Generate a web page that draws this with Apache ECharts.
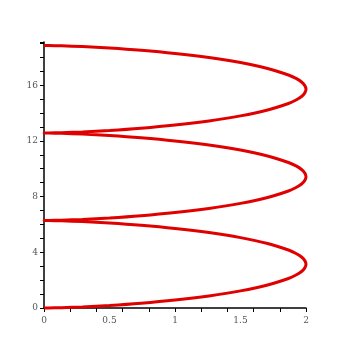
<!DOCTYPE html>
<html>
<head>
<meta charset="utf-8">
<script src="https://cdn.jsdelivr.net/npm/echarts@6/dist/echarts.min.js"></script>
<style>
  html, body { margin: 0; padding: 0; background: #fff; }
  #chart { width: 338px; height: 343px; }
</style>
</head>
<body>
<div id="chart"></div>
<script>
// Horizontal position of each sample along one arch (shared by all three arches)
const archX = [0, 0.034, 0.134, 0.293, 0.5, 0.741, 1, 1.259, 1.5, 1.707, 1.866, 1.924, 1.966, 1.991, 2,
               1.991, 1.966, 1.924, 1.866, 1.707, 1.5, 1.259, 1, 0.741, 0.5, 0.293, 0.134, 0.034, 0];
// Vertical positions for each of the three arches
const arch1Y = [0, 0.003, 0.024, 0.078, 0.181, 0.343, 0.571, 0.867, 1.228, 1.649, 2.118, 2.366, 2.621, 2.880, 3.142,
                3.403, 3.662, 3.917, 4.165, 4.634, 5.055, 5.417, 5.712, 5.940, 6.102, 6.205, 6.259, 6.280, 6.283];
const arch2Y = [6.283, 6.286, 6.307, 6.361, 6.464, 6.626, 6.854, 7.150, 7.511, 7.932, 8.401, 8.649, 8.904, 9.163, 9.425,
                9.686, 9.945, 10.200, 10.448, 10.917, 11.338, 11.700, 11.995, 12.223, 12.385, 12.488, 12.542, 12.563, 12.566];
const arch3Y = [12.566, 12.569, 12.590, 12.644, 12.747, 12.909, 13.137, 13.433, 13.794, 14.215, 14.684, 14.932, 15.187, 15.446, 15.708,
                15.969, 16.228, 16.483, 16.731, 17.200, 17.621, 17.983, 18.278, 18.506, 18.668, 18.771, 18.825, 18.846, 18.849];
// Tick labels
const xLabels = ['0', '0.5', '1', '1.5', '2'];
const yLabels = ['0', '4', '8', '12', '16'];

const curve = [];
[arch1Y, arch2Y, arch3Y].forEach(ys => {
  ys.forEach((y, i) => {
    if (curve.length && i === 0) return;
    curve.push([archX[i], y]);
  });
});

const labelStyle = { color: '#555', fontSize: 9, fontFamily: 'DejaVu Serif' };

const chart = echarts.init(document.getElementById('chart'), null, { renderer: 'canvas' });
chart.setOption({
  animation: false,
  backgroundColor: '#fff',
  grid: { left: 44, right: 32, top: 42, bottom: 35, containLabel: false },
  xAxis: [
    {
      type: 'value', min: 0, max: 2, interval: 0.2,
      axisLine: { show: true, lineStyle: { color: '#000', width: 1.5 } },
      axisTick: { show: true, inside: false, length: 4, lineStyle: { color: '#000', width: 1 } },
      axisLabel: { show: false },
      splitLine: { show: false }
    },
    {
      type: 'value', min: 0, max: 2, interval: 0.5, position: 'bottom',
      axisLine: { show: false }, axisTick: { show: false },
      axisLabel: Object.assign({ show: true, margin: 8, formatter: v => xLabels[Math.round(v * 2)] }, labelStyle),
      splitLine: { show: false }
    }
  ],
  yAxis: [
    {
      type: 'value', min: 0, max: 19.1, interval: 1,
      axisLine: { show: true, lineStyle: { color: '#000', width: 1.5 } },
      axisTick: { show: true, inside: false, length: 4, lineStyle: { color: '#000', width: 1 } },
      axisLabel: { show: false },
      splitLine: { show: false }
    },
    {
      type: 'value', min: 0, max: 19.1, interval: 4, position: 'left',
      axisLine: { show: false }, axisTick: { show: false },
      axisLabel: Object.assign({ show: true, margin: 6, showMaxLabel: false,
        formatter: v => yLabels[Math.round(v / 4)] || '' }, labelStyle),
      splitLine: { show: false }
    }
  ],
  series: [{
    type: 'line',
    data: curve,
    xAxisIndex: 0, yAxisIndex: 0,
    showSymbol: false,
    smooth: 0.3,
    lineStyle: { color: '#e00000', width: 3 },
    clip: false
  }]
});
</script>
</body>
</html>
